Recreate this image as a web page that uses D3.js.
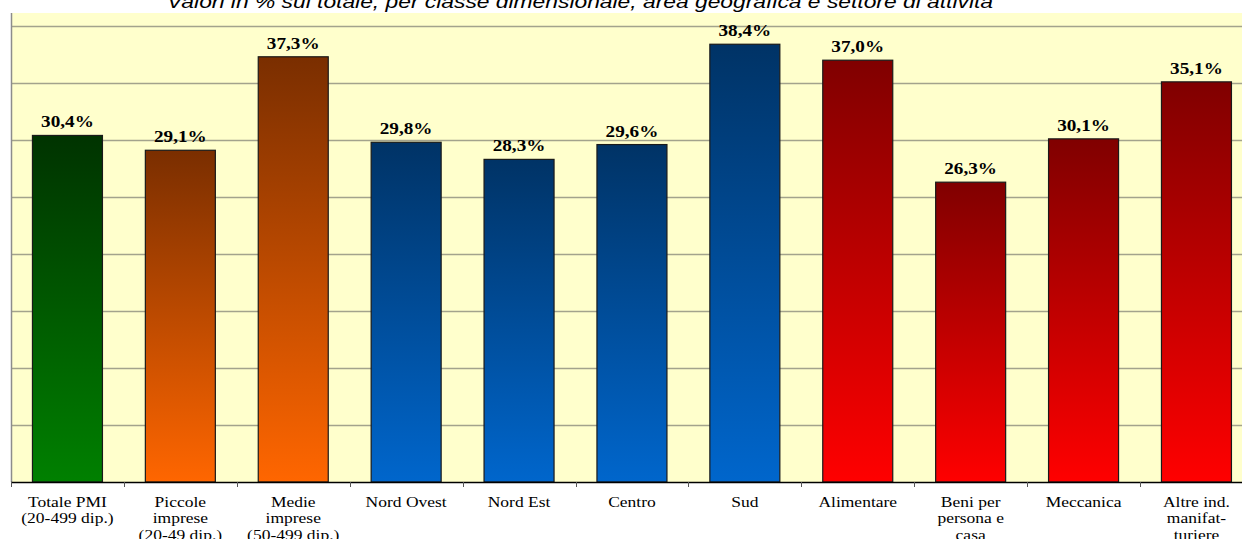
<!DOCTYPE html>
<html>
<head>
<meta charset="utf-8">
<script src="https://cdn.jsdelivr.net/npm/d3@7"></script>
<style>
  html, body { margin: 0; padding: 0; background: #ffffff; }
  svg { display: block; }
</style>
</head>
<body>
<svg id="chart" width="1242" height="539"></svg>
<script>
// Categories (label lines), values (%) and colour group of each bar
const categories = [
  ["Totale PMI", "(20-499 dip.)"],
  ["Piccole", "imprese", "(20-49 dip.)"],
  ["Medie", "imprese", "(50-499 dip.)"],
  ["Nord Ovest"],
  ["Nord Est"],
  ["Centro"],
  ["Sud"],
  ["Alimentare"],
  ["Beni per", "persona e", "casa"],
  ["Meccanica"],
  ["Altre ind.", "manifat-", "turiere"]
];
const values = [30.4, 29.1, 37.3, 29.8, 28.3, 29.6, 38.4, 37.0, 26.3, 30.1, 35.1];
const groups = ["totale", "classe", "classe", "area", "area", "area", "area",
                "settore", "settore", "settore", "settore"];
const yTicks = [0, 5, 10, 15, 20, 25, 30, 35, 40];
const title = "Valori in % sul totale, per classe dimensionale, area geografica e settore di attività";

// Gradient stops (top, bottom) for each colour group
const palette = {
  totale:  ["#003300", "#008000"],
  classe:  ["#7a2e00", "#ff6600"],
  area:    ["#003366", "#0066cc"],
  settore: ["#800000", "#ff0000"]
};

const svg = d3.select("#chart");
const left = 11, bottom = 482, plotTop = 13;
const step = 112.9;
const keys = categories.map((c, i) => i);

const x = d3.scaleBand()
  .domain(keys)
  .range([left, left + step * keys.length])
  .paddingInner(0.38)
  .paddingOuter(0.19);

const y = d3.scaleLinear().domain([0, 40]).range([bottom, 26]);

// gradients
const defs = svg.append("defs");
Object.entries(palette).forEach(([k, [c0, c1]]) => {
  const g = defs.append("linearGradient")
    .attr("id", "grad-" + k)
    .attr("x1", 0).attr("y1", 0).attr("x2", 0).attr("y2", 1);
  g.append("stop").attr("offset", "0%").attr("stop-color", c0);
  g.append("stop").attr("offset", "100%").attr("stop-color", c1);
});

// title
svg.append("text")
  .attr("x", 580).attr("y", 8)
  .attr("text-anchor", "middle")
  .attr("font-family", "Liberation Sans, Arial, sans-serif")
  .attr("font-style", "italic")
  .attr("font-size", 19)
  .attr("textLength", 826)
  .attr("lengthAdjust", "spacingAndGlyphs")
  .attr("fill", "#000")
  .text(title);

// plot background
svg.append("rect")
  .attr("x", left).attr("y", plotTop)
  .attr("width", 1242 - left).attr("height", bottom - plotTop)
  .attr("fill", "#ffffcc");

// gridlines
svg.append("g")
  .selectAll("line")
  .data(yTicks.filter(t => t > 0))
  .join("line")
  .attr("x1", left).attr("x2", 1242)
  .attr("y1", d => Math.round(y(d)) + 0.5)
  .attr("y2", d => Math.round(y(d)) + 0.5)
  .attr("stroke", "#a3a38c")
  .attr("stroke-width", 1.3);

// left axis line
svg.append("line")
  .attr("x1", left + 0.5).attr("x2", left + 0.5)
  .attr("y1", plotTop).attr("y2", bottom)
  .attr("stroke", "#8c8c8c").attr("stroke-width", 1.5);

// bars
svg.append("g")
  .selectAll("rect")
  .data(values)
  .join("rect")
  .attr("x", (d, i) => x(i))
  .attr("width", x.bandwidth())
  .attr("y", d => y(d))
  .attr("height", d => bottom - y(d))
  .attr("fill", (d, i) => `url(#grad-${groups[i]})`)
  .attr("stroke", "#1a1a1a")
  .attr("stroke-width", 1.2);

// value labels
svg.append("g")
  .selectAll("text")
  .data(values)
  .join("text")
  .attr("transform", (d, i) =>
    `translate(${x(i) + x.bandwidth() / 2},${y(d) - 8}) scale(1.13,1)`)
  .attr("text-anchor", "middle")
  .attr("font-family", "Liberation Serif, 'Times New Roman', serif")
  .attr("font-weight", "bold")
  .attr("font-size", 17)
  .attr("fill", "#000")
  .text(d => d.toFixed(1).replace(".", ",") + "%");

// x axis baseline and boundary ticks
svg.append("line")
  .attr("x1", left).attr("x2", 1242)
  .attr("y1", bottom + 0.5).attr("y2", bottom + 0.5)
  .attr("stroke", "#000").attr("stroke-width", 1.5);

svg.append("g")
  .selectAll("line")
  .data(d3.range(keys.length + 1))
  .join("line")
  .attr("x1", i => Math.round(left + i * x.step()) + 0.5)
  .attr("x2", i => Math.round(left + i * x.step()) + 0.5)
  .attr("y1", bottom).attr("y2", bottom + 5)
  .attr("stroke", "#555").attr("stroke-width", 1);

// category labels
const lab = svg.append("g")
  .selectAll("text")
  .data(categories)
  .join("text")
  .attr("transform", (d, i) =>
    `translate(${x(i) + x.bandwidth() / 2},${bottom + 25}) scale(1.13,1)`)
  .attr("text-anchor", "middle")
  .attr("font-family", "Liberation Serif, 'Times New Roman', serif")
  .attr("font-size", 15.5)
  .attr("fill", "#000");

lab.selectAll("tspan")
  .data(d => d)
  .join("tspan")
  .attr("x", 0)
  .attr("y", (d, j) => j * 16.5)
  .text(d => d);
</script>
</body>
</html>
